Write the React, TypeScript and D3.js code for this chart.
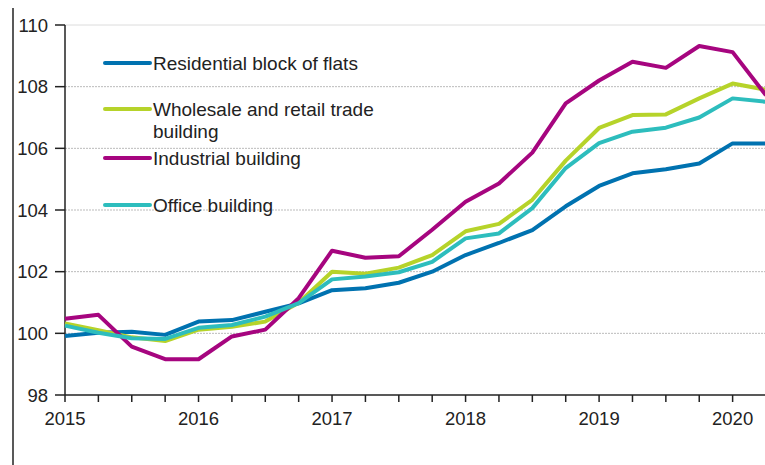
import * as d3 from 'd3'

const quarters = [
  '2015Q1', '2015Q2', '2015Q3', '2015Q4', '2016Q1', '2016Q2', '2016Q3', '2016Q4',
  '2017Q1', '2017Q2', '2017Q3', '2017Q4', '2018Q1', '2018Q2', '2018Q3', '2018Q4',
  '2019Q1', '2019Q2', '2019Q3', '2019Q4', '2020Q1', '2020Q2',
]
const residential = [99.91, 100.02, 100.05, 99.95, 100.38, 100.43, 100.7, 100.97, 101.4, 101.46, 101.64, 102.0, 102.54, 102.93, 103.35, 104.12, 104.78, 105.19, 105.32, 105.51, 106.16, 106.16]
const wholesale = [100.32, 100.1, 99.87, 99.75, 100.12, 100.21, 100.38, 100.99, 102.0, 101.93, 102.13, 102.54, 103.31, 103.55, 104.33, 105.6, 106.66, 107.08, 107.1, 107.62, 108.1, 107.9]
const industrial = [100.47, 100.6, 99.57, 99.16, 99.16, 99.9, 100.12, 101.14, 102.68, 102.45, 102.5, 103.36, 104.27, 104.86, 105.86, 107.46, 108.2, 108.81, 108.61, 109.32, 109.12, 107.72]
const office = [100.25, 100.02, 99.84, 99.82, 100.18, 100.27, 100.54, 100.98, 101.75, 101.84, 101.98, 102.32, 103.08, 103.24, 104.06, 105.36, 106.17, 106.54, 106.67, 107.0, 107.62, 107.51]
const yTicks = [98, 100, 102, 104, 106, 108, 110]

const series = [
  { name: ['Residential block of flats'], values: residential, color: '#0072b0' },
  { name: ['Wholesale and retail trade', 'building'], values: wholesale, color: '#b6d32a' },
  { name: ['Industrial building'], values: industrial, color: '#a6057f' },
  { name: ['Office building'], values: office, color: '#2dbdbd' },
]

const W = 765
const H = 465
const FONT = 'Liberation Sans, Arial, sans-serif'

export default function App() {
  const x = d3.scaleLinear().domain([0, quarters.length - 1]).range([65, 766])
  const y = d3.scaleLinear().domain([98, 110]).range([395, 25])
  const line = d3.line<number>().x((_, i) => x(i)).y(d => y(d))

  const legendY = [63, 109, 158, 205]

  return (
    <svg width={W} height={H} style={{ position: 'absolute', left: 0, top: 0, background: '#fff' }} fontFamily={FONT}>
      <rect width={W} height={H} fill="#fff" />
      {/* left frame line */}
      <line x1={13} x2={13} y1={8} y2={H} stroke="#222" strokeWidth={1.5} />

      {/* grid */}
      {yTicks.slice(1).map(t => (
        <line key={t} x1={x(0)} x2={W} y1={y(t)} y2={y(t)}
          stroke={t === 110 ? '#dcdcdc' : '#bbb'} strokeWidth={1}
          strokeDasharray={t === 110 ? undefined : '2,1'} />
      ))}

      {/* y axis */}
      <line x1={x(0)} x2={x(0)} y1={y(110)} y2={y(98)} stroke="#222" strokeWidth={1.5} />
      {yTicks.map(t => (
        <g key={t}>
          <line x1={x(0) - 10} x2={x(0)} y1={y(t)} y2={y(t)} stroke="#222" strokeWidth={1.5} />
          <text x={48} y={y(t)} dy="0.36em" textAnchor="end" fontSize={18.5} fill="#222">{t}</text>
        </g>
      ))}

      {/* x axis */}
      <line x1={x(0)} x2={W} y1={y(98)} y2={y(98)} stroke="#222" strokeWidth={1.5} />
      {quarters.map((q, i) => (
        <g key={q}>
          <line x1={x(i)} x2={x(i)} y1={y(98)} y2={y(98) + 7} stroke="#222" strokeWidth={1.5} />
          {q.endsWith('Q1') && (
            <text x={x(i)} y={425} textAnchor="middle" fontSize={18.5} fill="#222">{q.slice(0, 4)}</text>
          )}
        </g>
      ))}

      {/* lines */}
      {series.map(s => (
        <path key={s.name[0]} d={line(s.values) ?? ''} fill="none" stroke={s.color}
          strokeWidth={4} strokeLinejoin="round" />
      ))}

      {/* legend */}
      {series.map((s, i) => (
        <g key={s.name[0]}>
          <line x1={105} x2={150} y1={legendY[i]} y2={legendY[i]} stroke={s.color} strokeWidth={4} strokeLinecap="round" />
          {s.name.map((n, j) => (
            <text key={n} x={153} y={legendY[i] + j * 22} dy="0.36em" fontSize={19} fill="#222">{n}</text>
          ))}
        </g>
      ))}
    </svg>
  )
}
